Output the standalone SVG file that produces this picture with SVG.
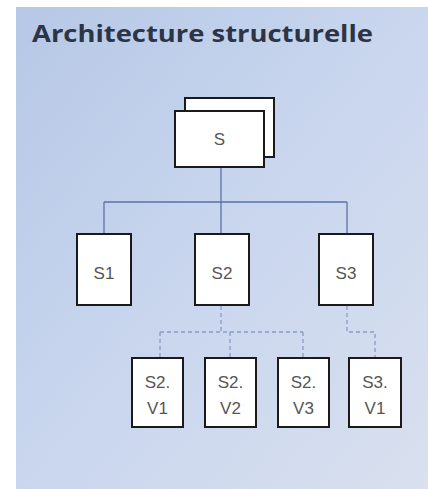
<svg xmlns="http://www.w3.org/2000/svg" width="428" height="489" viewBox="0 0 428 489">
<defs>
<linearGradient id="bg" x1="0" y1="0" x2="1" y2="1">
<stop offset="0" stop-color="#b6c8e6"/>
<stop offset="0.5" stop-color="#c9d6ee"/>
<stop offset="1" stop-color="#d9e0ee"/>
</linearGradient>
<style>
.box{fill:#ffffff;stroke:#1a1a1a;stroke-width:2}
.lbl{font-family:"Liberation Sans",Arial,sans-serif;font-size:17px;fill:#555555;text-anchor:middle}
.solid{fill:none;stroke:#5b72a6;stroke-width:1.3}
.dash{fill:none;stroke:#8a9cc4;stroke-width:1.3;stroke-dasharray:4 3}
</style>
</defs>
<rect x="0" y="0" width="428" height="489" fill="#ffffff"/>
<rect x="16" y="7" width="412" height="482" fill="url(#bg)"/>
<text x="32" y="42" font-family="'Open Sans','Liberation Sans',sans-serif" font-weight="bold" font-size="23" fill="#2b3545" textLength="341" lengthAdjust="spacingAndGlyphs">Architecture structurelle</text>
<g id="connectors">
<path class="solid" d="M221 167 V234 M104 202 H347 M104 202 V234 M347 202 V234"/>
<path class="dash" d="M221 306 V332 M160 332 H303 M160 332 V358 M230 332 V358 M303 332 V358 M347 306 V332 H375 V358"/>
</g>
<g id="S">
<rect class="box" x="185" y="98" width="89" height="59"/>
<rect class="box" x="175" y="111" width="89" height="56"/>
<text class="lbl" x="219.5" y="145">S</text>
</g>
<g id="S1">
<rect class="box" x="77" y="234" width="54" height="71"/>
<text class="lbl" x="104" y="279">S1</text>
</g>
<g id="S2">
<rect class="box" x="195" y="234" width="54" height="71"/>
<text class="lbl" x="222" y="279">S2</text>
</g>
<g id="S3">
<rect class="box" x="319" y="234" width="54" height="71"/>
<text class="lbl" x="346" y="279">S3</text>
</g>
<g id="S2V1">
<rect class="box" x="132" y="358" width="51" height="69"/>
<text class="lbl" x="157.5" y="388">S2.</text>
<text class="lbl" x="157.5" y="414">V1</text>
</g>
<g id="S2V2">
<rect class="box" x="205" y="358" width="51" height="69"/>
<text class="lbl" x="230.5" y="388">S2.</text>
<text class="lbl" x="230.5" y="414">V2</text>
</g>
<g id="S2V3">
<rect class="box" x="278" y="358" width="51" height="69"/>
<text class="lbl" x="303.5" y="388">S2.</text>
<text class="lbl" x="303.5" y="414">V3</text>
</g>
<g id="S3V1">
<rect class="box" x="349" y="358" width="52" height="69"/>
<text class="lbl" x="375" y="388">S3.</text>
<text class="lbl" x="375" y="414">V1</text>
</g>
</svg>
